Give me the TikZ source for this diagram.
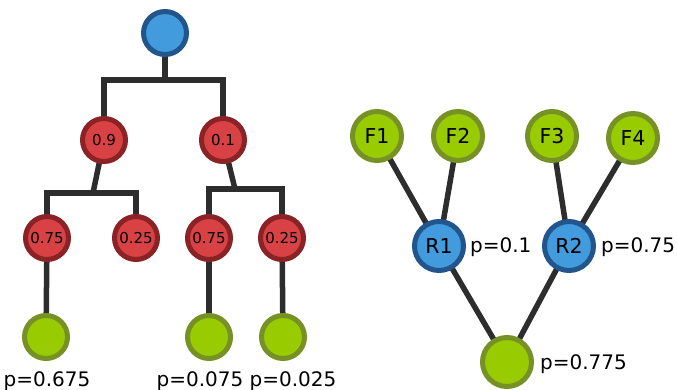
\documentclass[tikz,border=0pt]{standalone}
\usepackage{fontspec}
\setmainfont{DejaVu Sans}
\pgfdeclarelayer{bg}
\pgfsetlayers{bg,main}
\definecolor{bluefill}{RGB}{66,155,220}
\definecolor{blueline}{RGB}{33,85,140}
\definecolor{redfill}{RGB}{217,66,68}
\definecolor{redline}{RGB}{138,34,38}
\definecolor{greenfill}{RGB}{153,204,0}
\definecolor{greenline}{RGB}{118,146,38}
\definecolor{edgecol}{RGB}{45,45,45}
\begin{document}
\begin{tikzpicture}[x=1pt,y=-1pt,
  base/.style={circle,line width=5pt,inner sep=0pt},
  small/.style={base,minimum size=43pt},
  big/.style={base,minimum size=49pt,font=\fontsize{20.5}{23}\selectfont},
  bluen/.style={fill=bluefill,draw=blueline},
  redn/.style={small,fill=redfill,draw=redline,font=\fontsize{15}{17}\selectfont},
  greenn/.style={fill=greenfill,draw=greenline},
  lbl/.style={font=\fontsize{20}{23}\selectfont,inner sep=0pt},
  conn/.style={draw=edgecol,line width=5.5pt}]
\useasboundingbox (0,0) rectangle (678,389);
% left tree
\node[small,bluen] (root) at (165,33) {};
\node[redn] (n09) at (104,140) {0.9};
\node[redn] (n01) at (223,140) {0.1};
\node[redn] (a075) at (47,238) {0.75};
\node[redn] (a025) at (136,238) {0.25};
\node[redn] (b075) at (209,238) {0.75};
\node[redn] (b025) at (282,238) {0.25};
\node[small,greenn] (la) at (46,337) {};
\node[small,greenn] (lb) at (209,337) {};
\node[small,greenn] (lc) at (283,337) {};
\coordinate (j0) at (165,80);
\coordinate (j1) at (93,193);
\coordinate (j2) at (235,189);
\node[lbl,anchor=base] (pa) at (47,386) {p=0.675};
\node[lbl,anchor=base] (pb) at (200,386) {p=0.075};
\node[lbl,anchor=base] (pc) at (293,386) {p=0.025};
% right tree
\node[big,greenn] (f1) at (377,136) {F1};
\node[big,greenn] (f2) at (458,136) {F2};
\node[big,greenn] (f3) at (552,136) {F3};
\node[big,greenn] (f4) at (633,138) {F4};
\node[big,bluen] (r1) at (439,246) {R1};
\node[big,bluen] (r2) at (569,246) {R2};
\node[big,greenn] (out) at (507,362) {};
\node[lbl,anchor=base west] (pr1) at (470,252) {p=0.1};
\node[lbl,anchor=base west] (pr2) at (601,252) {p=0.75};
\node[lbl,anchor=base west] (pout) at (540,369) {p=0.775};
\begin{pgfonlayer}{bg}
\draw[conn] (root.center) -- (j0);
\draw[conn] (n09.center) |- (j0) -| (n01.center);
\draw[conn] (n09.center) -- (j1);
\draw[conn] (a075.center) |- (j1) -| (a025.center);
\draw[conn] (n01.center) -- (j2);
\draw[conn] (b075.center) |- (j2) -| (b025.center);
\draw[conn] (a075.center) -- (la.center);
\draw[conn] (b075.center) -- (lb.center);
\draw[conn] (b025.center) -- (lc.center);
\draw[conn] (f1.center) -- (r1.center);
\draw[conn] (f2.center) -- (r1.center);
\draw[conn] (f3.center) -- (r2.center);
\draw[conn] (f4.center) -- (r2.center);
\draw[conn] (r1.center) -- (out.center);
\draw[conn] (r2.center) -- (out.center);
\end{pgfonlayer}
\end{tikzpicture}
\end{document}
